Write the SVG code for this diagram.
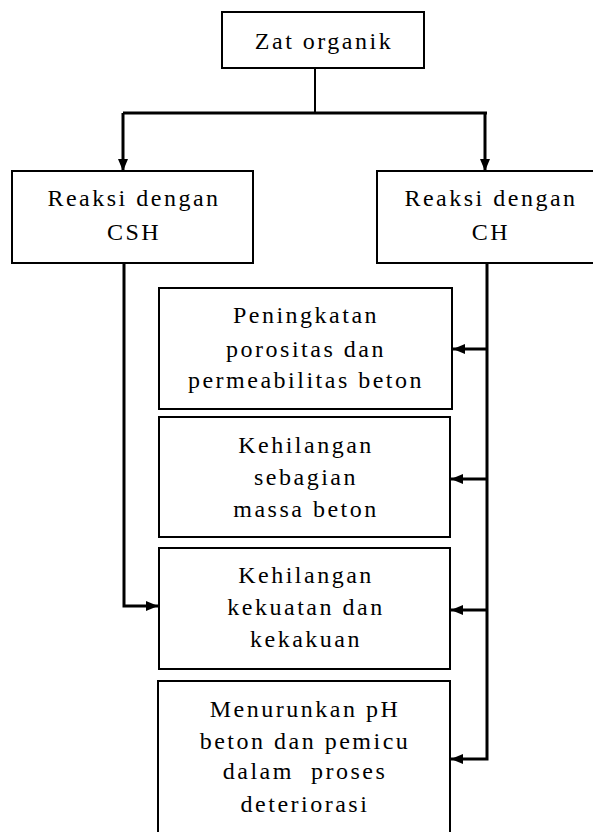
<svg xmlns="http://www.w3.org/2000/svg" width="593" height="832" viewBox="0 0 593 832">
<style>
.box{fill:#fff;stroke:#000;stroke-width:2}
.t{font-family:"Liberation Serif","Times New Roman",serif;font-size:24px;letter-spacing:2.5px;text-anchor:middle;fill:#000;white-space:pre}
.c{fill:none;stroke:#000;stroke-width:3;stroke-linejoin:miter}
.thin{fill:none;stroke:#000;stroke-width:2}
</style>
<defs>
<marker id="ah" markerUnits="userSpaceOnUse" markerWidth="12" markerHeight="12" viewBox="0 0 12 12" refX="12" refY="6" orient="auto">
<path d="M0,1 L12,6 L0,11 Z" fill="#000"/>
</marker>
</defs>
<rect width="593" height="832" fill="#fff"/>
<g id="connectors">
<path class="thin" d="M315,68 V113"/>
<path class="c" d="M123,113 H487"/>
<path class="c" d="M123,113 V171" marker-end="url(#ah)"/>
<path class="c" d="M485,113 V171" marker-end="url(#ah)"/>
<path class="c" d="M124,263 V606 H158" marker-end="url(#ah)"/>
<path class="c" d="M487,263 V759 H451" marker-end="url(#ah)"/>
<path class="c" d="M487,349 H453" marker-end="url(#ah)"/>
<path class="c" d="M487,479 H451" marker-end="url(#ah)"/>
<path class="c" d="M487,610 H451" marker-end="url(#ah)"/>
</g>
<g id="zat">
<rect class="box" x="222" y="12" width="202" height="56"/>
<text class="t" x="324" y="49">Zat organik</text>
</g>
<g id="csh">
<rect class="box" x="12" y="171" width="241" height="92"/>
<text class="t" x="134" y="206">Reaksi dengan</text>
<text class="t" x="134" y="240">CSH</text>
</g>
<g id="ch">
<rect class="box" x="377" y="171" width="230" height="92"/>
<text class="t" x="491" y="206">Reaksi dengan</text>
<text class="t" x="491" y="240">CH</text>
</g>
<g id="porositas">
<rect class="box" x="159" y="288" width="293" height="121"/>
<text class="t" x="306" y="323">Peningkatan</text>
<text class="t" x="306" y="357">porositas dan</text>
<text class="t" x="306" y="388">permeabilitas beton</text>
</g>
<g id="massa">
<rect class="box" x="159" y="417" width="291" height="120"/>
<text class="t" x="306" y="453">Kehilangan</text>
<text class="t" x="306" y="485">sebagian</text>
<text class="t" x="306" y="517">massa beton</text>
</g>
<g id="kekuatan">
<rect class="box" x="159" y="548" width="291" height="121"/>
<text class="t" x="306" y="583">Kehilangan</text>
<text class="t" x="306" y="615">kekuatan dan</text>
<text class="t" x="306" y="647">kekakuan</text>
</g>
<g id="ph">
<rect class="box" x="158" y="681" width="292" height="160"/>
<text class="t" x="305" y="717">Menurunkan pH</text>
<text class="t" x="305" y="749">beton dan pemicu</text>
<text class="t" x="305" y="779">dalam  proses</text>
<text class="t" x="305" y="812">deteriorasi</text>
</g>
</svg>
